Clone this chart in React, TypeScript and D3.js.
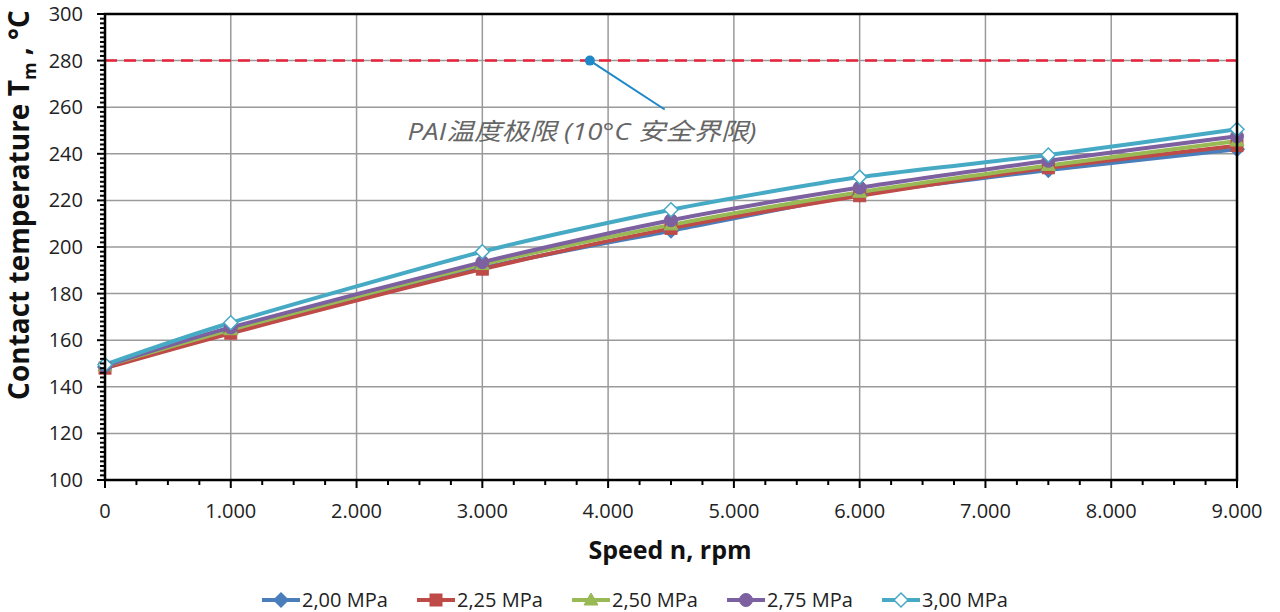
import * as d3 from 'd3'

// speed n, rpm
const speeds = [0, 1000, 3000, 4500, 6000, 7500, 9000]

// contact temperature per pressure level, °C
const t200 = [148.5, 163.5, 191, 207, 222.5, 233, 242]
const t225 = [148, 163, 190.5, 208, 222, 234, 243.5]
const t250 = [149, 164.5, 192.5, 209.5, 223.5, 235, 245.5]
const t275 = [149, 165.5, 193.5, 211.5, 225.5, 237, 247.5]
const t300 = [149.5, 167.5, 198, 216, 230, 239.5, 250.5]

const seriesNames = ['2,00 MPa', '2,25 MPa', '2,50 MPa', '2,75 MPa', '3,00 MPa']
const xTicks = [0, 1000, 2000, 3000, 4000, 5000, 6000, 7000, 8000, 9000]
const yTicks = [100, 120, 140, 160, 180, 200, 220, 240, 260, 280, 300]

const limitTemp = 280
const annotationPoint = [3855, 280]
const annotationEnd = [4450, 259]
const annotationLabel = [3792, 246]

const series = [
  { name: seriesNames[0], values: t200, color: '#4A7EBB', marker: 'diamond' },
  { name: seriesNames[1], values: t225, color: '#BE4B48', marker: 'square' },
  { name: seriesNames[2], values: t250, color: '#98B954', marker: 'triangle' },
  { name: seriesNames[3], values: t275, color: '#7D60A0', marker: 'circle' },
  { name: seriesNames[4], values: t300, color: '#46AAC5', marker: 'openDiamond' },
]

const W = 1280
const H = 612
const margin = { top: 14, right: 43, bottom: 132, left: 105 }
const innerW = W - margin.left - margin.right
const innerH = H - margin.top - margin.bottom

const x = d3.scaleLinear().domain([0, 9000]).range([0, innerW])
const y = d3.scaleLinear().domain([100, 300]).range([innerH, 0])

const fmtX = (v: number) => (v === 0 ? '0' : d3.format(',')(v).replace(/,/g, '.'))
const font = '"Open Sans", "Noto Sans", sans-serif'

function Marker({ kind, color, cx, cy }: { kind: string; color: string; cx: number; cy: number }) {
  if (kind === 'diamond' || kind === 'openDiamond') {
    const s = 7
    return (
      <path
        d={`M${cx},${cy - s}L${cx + s},${cy}L${cx},${cy + s}L${cx - s},${cy}Z`}
        fill={kind === 'openDiamond' ? '#fff' : color}
        stroke={color}
        strokeWidth={1.5}
      />
    )
  }
  if (kind === 'square') {
    return <rect x={cx - 6} y={cy - 6} width={12} height={12} fill={color} stroke={color} />
  }
  if (kind === 'triangle') {
    return <path d={`M${cx},${cy - 7}L${cx + 7},${cy + 5}L${cx - 7},${cy + 5}Z`} fill={color} stroke={color} />
  }
  return <circle cx={cx} cy={cy} r={6.5} fill={color} stroke={color} />
}

export default function App() {
  const line = d3
    .line<number>()
    .x((_, i) => x(speeds[i]))
    .y(d => y(d))
    .curve(d3.curveCardinal.tension(0.3))

  const xMinor = d3.range(0, 9001, 250).filter(v => v % 1000 !== 0)
  const yMinor = d3.range(100, 301, 2).filter(v => v % 20 !== 0)

  return (
    <svg width={W} height={H} style={{ position: 'absolute', left: 0, top: 0, background: '#fff' }} fontFamily={font}>
      <g transform={`translate(${margin.left},${margin.top})`}>
        {/* grid */}
        {yTicks.map(t => (
          <line key={'gy' + t} x1={0} x2={innerW} y1={y(t)} y2={y(t)} stroke="#9a9a9a" strokeWidth={1.5} />
        ))}
        {xTicks.map(t => (
          <line key={'gx' + t} x1={x(t)} x2={x(t)} y1={0} y2={innerH} stroke="#9a9a9a" strokeWidth={1.5} />
        ))}

        {/* temperature limit */}
        <line
          x1={0}
          x2={innerW}
          y1={y(limitTemp)}
          y2={y(limitTemp)}
          stroke="#E8213A"
          strokeWidth={2.5}
          strokeDasharray="12,7"
        />

        {/* annotation */}
        <line
          x1={x(annotationPoint[0])}
          y1={y(annotationPoint[1])}
          x2={x(annotationEnd[0])}
          y2={y(annotationEnd[1])}
          stroke="#1E88C8"
          strokeWidth={2}
        />
        <circle cx={x(annotationPoint[0])} cy={y(annotationPoint[1])} r={5} fill="#1E88C8" />
        <text
          x={x(annotationLabel[0])}
          y={y(annotationLabel[1])}
          textAnchor="middle"
          fontStyle="italic"
          fontSize={24}
          fill="#666"
          textLength={349}
          lengthAdjust="spacingAndGlyphs"
          fontFamily={'"Open Sans", "Noto Sans CJK SC", sans-serif'}
        >
          PAI温度极限 (10°C 安全界限)
        </text>

        {/* series */}
        {series.map(s => (
          <path key={s.name} d={line(s.values) || ''} fill="none" stroke={s.color} strokeWidth={4} />
        ))}
        {series.map(s => (
          <g key={s.name + 'm'}>
            {s.values.map((v, i) => (
              <Marker key={i} kind={s.marker} color={s.color} cx={x(speeds[i])} cy={y(v)} />
            ))}
          </g>
        ))}

        {/* frame */}
        <rect x={0} y={0} width={innerW} height={innerH} fill="none" stroke="#000" strokeWidth={2.5} />

        {/* y axis ticks */}
        {yMinor.map(t => (
          <line key={'ym' + t} x1={-5} x2={0} y1={y(t)} y2={y(t)} stroke="#000" strokeWidth={2} />
        ))}
        {yTicks.map(t => (
          <g key={'yt' + t}>
            <line x1={-8} x2={0} y1={y(t)} y2={y(t)} stroke="#000" strokeWidth={2} />
            <text x={-22} y={y(t)} dy="0.35em" textAnchor="end" fontSize={20} fill="#222">
              {t}
            </text>
          </g>
        ))}

        {/* x axis ticks */}
        {xMinor.map(t => (
          <line key={'xm' + t} x1={x(t)} x2={x(t)} y1={innerH} y2={innerH + 5} stroke="#000" strokeWidth={2} />
        ))}
        {xTicks.map(t => (
          <g key={'xt' + t}>
            <line x1={x(t)} x2={x(t)} y1={innerH} y2={innerH + 8} stroke="#000" strokeWidth={2} />
            <text x={x(t)} y={innerH + 38} textAnchor="middle" fontSize={20} fill="#222">
              {fmtX(t)}
            </text>
          </g>
        ))}

        {/* axis titles */}
        <text x={565} y={innerH + 79} textAnchor="middle" fontSize={25} fontWeight="bold" fill="#111">
          Speed n, rpm
        </text>
        <text
          transform={`translate(${-76},${191}) rotate(-90)`}
          textAnchor="middle"
          fontSize={28}
          fontWeight="bold"
          fill="#111"
        >
          Contact temperature T<tspan fontSize={18} dy={7}>m</tspan>
          <tspan dy={-7}> , °C</tspan>
        </text>
      </g>

      {/* legend */}
      <g transform={`translate(262, 600)`}>
        {series.map((s, i) => (
          <g key={s.name + 'l'} transform={`translate(${i * 155},0)`}>
            <line x1={0} x2={38} y1={0} y2={0} stroke={s.color} strokeWidth={4} />
            <Marker kind={s.marker} color={s.color} cx={19} cy={0} />
            <text x={40} y={0} dy="0.35em" fontSize={20} fill="#222">
              {s.name}
            </text>
          </g>
        ))}
      </g>
    </svg>
  )
}
